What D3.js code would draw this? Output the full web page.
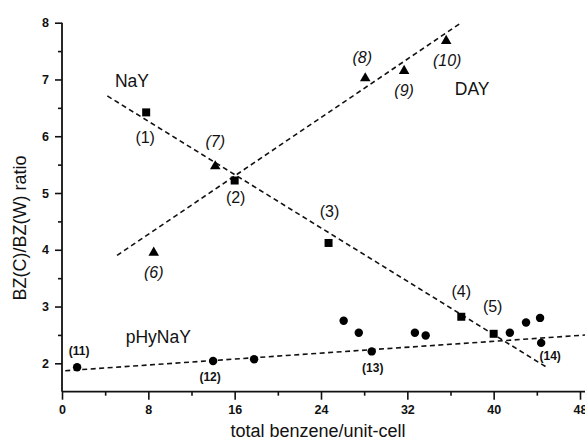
<!DOCTYPE html>
<html>
<head>
<meta charset="utf-8">
<script src="https://cdn.jsdelivr.net/npm/d3@7"></script>
<style>
  html, body { margin: 0; padding: 0; background: #fff; }
  svg { display: block; }
  text { font-family: "Liberation Sans", Arial, sans-serif; fill: #111; }
</style>
</head>
<body>
<svg id="chart" width="585" height="441"></svg>
<script>
// NaY samples (squares): total benzene per unit cell vs BZ(C)/BZ(W)
const nayX = [7.8, 16.0, 24.7, 37.0, 40.0];
const nayY = [6.42, 5.22, 4.12, 2.82, 2.52];
const nayIds = ["(1)", "(2)", "(3)", "(4)", "(5)"];

// DAY samples (triangles)
const dayX = [8.5, 14.2, 28.1, 31.7, 35.6];
const dayY = [3.95, 5.47, 7.02, 7.15, 7.68];
const dayIds = ["(6)", "(7)", "(8)", "(9)", "(10)"];

// pHyNaY samples (circles)
const phyX = [1.4, 14.0, 17.8, 26.1, 27.5, 28.7, 32.7, 33.7, 41.5, 43.0, 44.3, 44.4];
const phyY = [1.93, 2.04, 2.07, 2.75, 2.54, 2.21, 2.54, 2.49, 2.54, 2.72, 2.80, 2.36];
const phyIds = ["(11)", "(12)", "", "", "", "(13)", "", "", "", "", "", "(14)"];

// Dashed trend lines, as end points [x, y]
const nayFit = [[4.2, 6.71], [45.0, 1.92]];
const dayFit = [[5.1, 3.90], [37.0, 8.00]];
const phyFit = [[0.3, 1.87], [48.6, 2.50]];

// Axis ticks
const xTicks = [0, 8, 16, 24, 32, 40, 48];
const yTicks = [2, 3, 4, 5, 6, 7, 8];

const svg = d3.select("#chart");
const x = d3.scaleLinear().domain([0, 48]).range([62, 580]);
const y = d3.scaleLinear().domain([1.5, 8]).range([391.7, 22.7]);

// ---- axes ----
const xAxis = d3.axisBottom(x).tickValues(xTicks).tickFormat(d3.format("d"))
  .tickSize(8).tickPadding(5);
const xMinor = d3.axisBottom(x).tickValues(d3.range(4, 48, 8)).tickFormat("").tickSize(4);
const yAxis = d3.axisLeft(y).tickValues(yTicks).tickFormat(d3.format("d"))
  .tickSize(7).tickPadding(6);
const yMinor = d3.axisLeft(y).tickValues(d3.range(2.5, 8, 1)).tickFormat("").tickSize(4);

function styleAxis(g) {
  g.select(".domain").remove();
  g.selectAll("line").attr("stroke", "#111").attr("stroke-width", 1.6);
  g.selectAll("text").style("font-size", "12.5px").style("font-weight", "bold")
    .style("font-family", "'Liberation Sans', Arial, sans-serif").attr("fill", "#111");
}

const gx = svg.append("g").attr("transform", `translate(0,${y(1.5)})`).call(xAxis).call(styleAxis);
svg.append("g").attr("transform", `translate(0,${y(1.5)})`).call(xMinor).call(styleAxis);
const gy = svg.append("g").attr("transform", `translate(${x(0)},0)`).call(yAxis).call(styleAxis);
svg.append("g").attr("transform", `translate(${x(0)},0)`).call(yMinor).call(styleAxis);

// axis lines
svg.append("line").attr("x1", x(0)).attr("x2", 585).attr("y1", y(1.5)).attr("y2", y(1.5))
  .attr("stroke", "#111").attr("stroke-width", 1.8);
svg.append("line").attr("x1", x(0)).attr("x2", x(0)).attr("y1", y(1.5)).attr("y2", y(8))
  .attr("stroke", "#111").attr("stroke-width", 1.8);

// axis titles
svg.append("text").attr("x", x(24) - 3).attr("y", 437).attr("text-anchor", "middle")
  .style("font-size", "18px").text("total benzene/unit-cell");
svg.append("text").attr("transform", `translate(26,${228}) rotate(-90)`)
  .attr("text-anchor", "middle").style("font-size", "18px").text("BZ(C)/BZ(W) ratio");

// ---- trend lines ----
const line = d3.line().x(d => x(d[0])).y(d => y(d[1]));
[nayFit, dayFit, phyFit].forEach(fit => {
  svg.append("path").attr("d", line(fit)).attr("fill", "none")
    .attr("stroke", "#111").attr("stroke-width", 1.6).attr("stroke-dasharray", "5,3.5");
});

// ---- markers ----
function drawMarkers(xs, ys, type, size) {
  const sym = d3.symbol().type(type).size(size);
  svg.append("g").selectAll("path").data(xs.map((v, i) => [v, ys[i]])).join("path")
    .attr("d", sym)
    .attr("transform", d => `translate(${x(d[0])},${y(d[1])})`)
    .attr("fill", "#000");
}
drawMarkers(nayX, nayY, d3.symbolSquare, 64);
drawMarkers(dayX, dayY, d3.symbolTriangle, 48);
drawMarkers(phyX, phyY, d3.symbolCircle, 56);

// ---- point labels (pixel offsets from their marker) ----
const nayOff = [[-1, 31], [1, 22], [1, -26], [0, -20], [-1, -22]];
const dayOff = [[0, 25], [0, -19], [-3, -15], [0, 25], [1, 25]];
const phyOff = { 0: [2, -12], 1: [-3, 20], 5: [1, 21], 11: [9, 17] };

function drawLabels(xs, ys, ids, off, style) {
  ids.forEach((t, i) => {
    if (!t || !off[i]) return;
    const el = svg.append("text")
      .attr("x", x(xs[i]) + off[i][0]).attr("y", y(ys[i]) + off[i][1])
      .attr("text-anchor", "middle").text(t);
    style(el);
  });
}
drawLabels(nayX, nayY, nayIds, nayOff, el => el.style("font-size", "16px"));
drawLabels(dayX, dayY, dayIds, dayOff, el => el.style("font-size", "16px").style("font-style", "italic"));
drawLabels(phyX, phyY, phyIds, phyOff, el => el.style("font-size", "12px").style("font-weight", "bold"));

// ---- series names ----
const seriesNames = ["NaY", "DAY", "pHyNaY"];
const namePos = [[4.9, 6.87], [36.4, 6.73], [5.9, 2.36]];
seriesNames.forEach((n, i) => {
  svg.append("text").attr("x", x(namePos[i][0])).attr("y", y(namePos[i][1]))
    .style("font-size", "17.5px").text(n);
});
</script>
</body>
</html>
